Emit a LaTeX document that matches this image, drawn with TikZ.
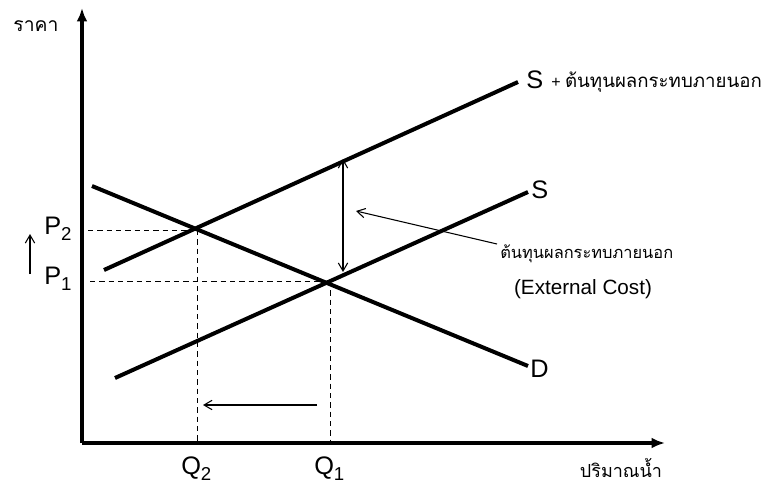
\documentclass[tikz,border=0pt]{standalone}
\usepackage{fontspec}
\setmainfont{Liberation Sans}
\newfontfamily\thaifont[Script=Thai]{Loma}
\usetikzlibrary{arrows.meta}
\newcommand{\sbs}[1]{\raisebox{-0.45ex}{\fontsize{14}{14}\selectfont #1}}
\begin{document}
\begin{tikzpicture}[x=0.75pt,y=-0.75pt,
  axis/.style={line width=2.8pt,-{Latex[length=10pt,width=8pt]}},
  curve/.style={line width=3pt},
  guide/.style={line width=0.7pt,dash pattern=on 4pt off 3pt},
  thin arrow/.style={line width=0.8pt,-{Straight Barb[length=6pt,width=7pt]}},
  lbl/.style={font=\fontsize{19}{21}\selectfont,inner sep=0pt},
  tlbl/.style={font=\thaifont\fontsize{12.3}{14}\selectfont,inner sep=0pt}]
\useasboundingbox (0,0) rectangle (773,486);
% axes
\coordinate (O) at (82,443);
\coordinate (ytop) at (82,8);
\coordinate (xend) at (665,443);
\draw[axis] (O) -- (ytop);
\draw[axis] (O) -- (xend);
\node[tlbl,font=\thaifont\fontsize{14.5}{16}\selectfont] (ylab) at (36,26) {ราคา};
\node[tlbl,font=\thaifont\fontsize{13.5}{16}\selectfont] (xlab) at (621,468) {ปริมาณน้ำ};
% curves
\coordinate (Spa) at (104,270);
\coordinate (Spb) at (518,82);
\coordinate (Sa) at (115,378);
\coordinate (Sb) at (528,192);
\coordinate (Da) at (92,186);
\coordinate (Db) at (528,366);
\draw[curve] (Spa) -- (Spb);
\draw[curve] (Sa) -- (Sb);
\draw[curve] (Da) -- (Db);
\node[lbl,anchor=west] (Splabel) at (526,80) {S};
\node[tlbl,anchor=west] (Spextra) at (551,82) {\normalfont\fontsize{12}{14}\selectfont+ \thaifont\fontsize{14}{16}\selectfont ต้นทุนผลกระทบภายนอก};
\node[lbl,anchor=west] (Slabel) at (531,190) {S};
\node[lbl,anchor=west] (Dlabel) at (530,369) {D};
% equilibrium points
\coordinate (E2) at (197,230);
\coordinate (E1) at (330,281);
\coordinate (P2y) at (88,230);
\coordinate (P1y) at (90,281);
\coordinate (Q2x) at (197,443);
\coordinate (Q1x) at (330,443);
\draw[guide] (P2y) -- (E2);
\draw[guide] (P1y) -- (E1);
\draw[guide] (E2) -- (Q2x);
\draw[guide] (E1) -- (Q1x);
\node[lbl,anchor=west] (P2) at (44,229) {P\sbs{2}};
\node[lbl,anchor=west] (P1) at (44,279) {P\sbs{1}};
\node[lbl,anchor=west] (Q2) at (181,469) {Q\sbs{2}};
\node[lbl,anchor=west] (Q1) at (314,469) {Q\sbs{1}};
% shift arrows
\coordinate (pa) at (30,274);
\coordinate (pb) at (30,234);
\draw[thin arrow] (pa) -- (pb);
\coordinate (qa) at (317,405);
\coordinate (qb) at (203,405);
\draw[thin arrow] (qa) -- (qb);
% external cost
\coordinate (ecTop) at (343,159);
\coordinate (ecBot) at (343,272);
\draw[line width=0.8pt,{Straight Barb[length=6pt,width=7pt]}-{Straight Barb[length=6pt,width=7pt]}] (ecTop) -- (ecBot);
\node[tlbl,anchor=west] (ecth) at (500,254) {ต้นทุนผลกระทบภายนอก};
\node[lbl,font=\fontsize{15.5}{18}\selectfont] (ecen) at (583,289) {(External Cost)};
\coordinate (ecArrowStart) at (497,244);
\coordinate (ecArrowEnd) at (356,211);
\draw[thin arrow] (ecArrowStart) -- (ecArrowEnd);
\end{tikzpicture}
\end{document}
